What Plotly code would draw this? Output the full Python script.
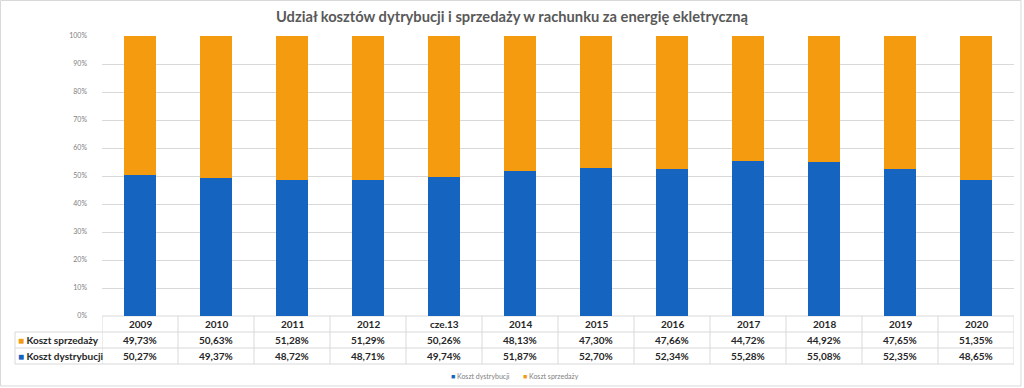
import plotly.graph_objects as go

categories = ["2009", "2010", "2011", "2012", "cze.13", "2014", "2015", "2016",
              "2017", "2018", "2019", "2020"]
koszt_sprzedazy = [49.73, 50.63, 51.28, 51.29, 50.26, 48.13, 47.30, 47.66, 44.72, 44.92, 47.65, 51.35]
koszt_dystrybucji = [50.27, 49.37, 48.72, 48.71, 49.74, 51.87, 52.70, 52.34, 55.28, 55.08, 52.35, 48.65]
series_names = ["Koszt dystrybucji", "Koszt sprzedaży"]
title_text = "Udział kosztów dytrybucji i sprzedaży w rachunku za energię ekletryczną"

BLUE = "#1565C0"
ORANGE = "#F59B0F"
GRID = "#D9D9D9"
FONT = "Lato"

W, H = 1024, 388
ML, MR, MT, MB = 102, 10, 36, 72
PW = W - ML - MR
PH = H - MT - MB


def px_x(px):
    return (px - ML) / PW


def px_y(py):
    return (H - MB - py) / PH


def fmt(v):
    return f"{v:.2f}".replace(".", ",") + "%"


fig = go.Figure()
fig.add_trace(go.Bar(x=categories, y=[v / 100 for v in koszt_dystrybucji], name=series_names[0],
                     marker=dict(color=BLUE, line=dict(width=0)), width=0.41))
fig.add_trace(go.Bar(x=categories, y=[v / 100 for v in koszt_sprzedazy], name=series_names[1],
                     marker=dict(color=ORANGE, line=dict(width=0)), width=0.41))

shapes = []
line_style = dict(color=GRID, width=1)
# table horizontal lines
for py in (332, 348, 364):
    shapes.append(dict(type="line", xref="paper", yref="paper", x0=px_x(15), x1=1,
                       y0=px_y(py), y1=px_y(py), line=line_style, layer="below"))
shapes.append(dict(type="line", xref="paper", yref="paper", x0=0, x1=1,
                   y0=0, y1=0, line=line_style, layer="below"))
# table vertical lines
for i in range(len(categories) + 1):
    shapes.append(dict(type="line", xref="x", yref="paper", x0=i - 0.5, x1=i - 0.5,
                       y0=0, y1=px_y(364), line=line_style, layer="below"))
shapes.append(dict(type="line", xref="paper", yref="paper", x0=px_x(15), x1=px_x(15),
                   y0=px_y(332), y1=px_y(364), line=line_style, layer="below"))
# outer chart border
shapes.append(dict(type="rect", xref="paper", yref="paper", x0=px_x(0.5), x1=px_x(1021),
                   y0=px_y(386), y1=px_y(0.5), line=dict(color=GRID, width=1), layer="below"))

annotations = []
cell_font = dict(family=FONT, size=10, color="#262626", weight="bold")
for i, cat in enumerate(categories):
    annotations.append(dict(x=i, xref="x", y=px_y(324), yref="paper", text=cat,
                            showarrow=False, font=cell_font, yanchor="middle"))
    annotations.append(dict(x=i, xref="x", y=px_y(340), yref="paper", text=fmt(koszt_sprzedazy[i]),
                            showarrow=False, font=cell_font, yanchor="middle"))
    annotations.append(dict(x=i, xref="x", y=px_y(356), yref="paper", text=fmt(koszt_dystrybucji[i]),
                            showarrow=False, font=cell_font, yanchor="middle"))
# row headers
annotations.append(dict(x=px_x(16), xref="paper", y=px_y(340), yref="paper", xanchor="left",
                        text=f'<span style="color:{ORANGE}">■</span> {series_names[1]}',
                        showarrow=False, font=cell_font, yanchor="middle"))
annotations.append(dict(x=px_x(16), xref="paper", y=px_y(356), yref="paper", xanchor="left",
                        text=f'<span style="color:{BLUE}">■</span> {series_names[0]}',
                        showarrow=False, font=cell_font, yanchor="middle"))
# legend
leg_font = dict(family=FONT, size=7, color="#808080")
annotations.append(dict(x=px_x(449), xref="paper", y=px_y(376), yref="paper", xanchor="left",
                        text=f'<span style="color:{BLUE}">■</span> {series_names[0]}',
                        showarrow=False, font=leg_font, yanchor="middle"))
annotations.append(dict(x=px_x(521), xref="paper", y=px_y(376), yref="paper", xanchor="left",
                        text=f'<span style="color:{ORANGE}">■</span> {series_names[1]}',
                        showarrow=False, font=leg_font, yanchor="middle"))

fig.update_layout(
    width=W, height=H,
    margin=dict(l=ML, r=MR, t=MT, b=MB),
    paper_bgcolor="white", plot_bgcolor="white",
    barmode="stack",
    showlegend=False,
    title=dict(text=title_text, x=0.5, xref="container", y=1 - 17 / H, yref="container",
               xanchor="center", yanchor="middle",
               font=dict(family=FONT, size=14.7, color="#595959", weight="bold")),
    xaxis=dict(type="category", range=[-0.5, len(categories) - 0.5], showticklabels=False,
               showgrid=False, zeroline=False, showline=False, ticks=""),
    yaxis=dict(range=[0, 1], dtick=0.1, tickformat=".0%", showgrid=True, gridcolor=GRID,
               gridwidth=1, zeroline=False, showline=False, ticks="",
               tickfont=dict(family=FONT, size=7, color="#808080"), ticklabelstandoff=14),
    shapes=shapes,
    annotations=annotations,
    font=dict(family=FONT),
)

fig.write_html("out.html", config={"displayModeBar": False},
               post_script="document.body.style.margin='0px';")
